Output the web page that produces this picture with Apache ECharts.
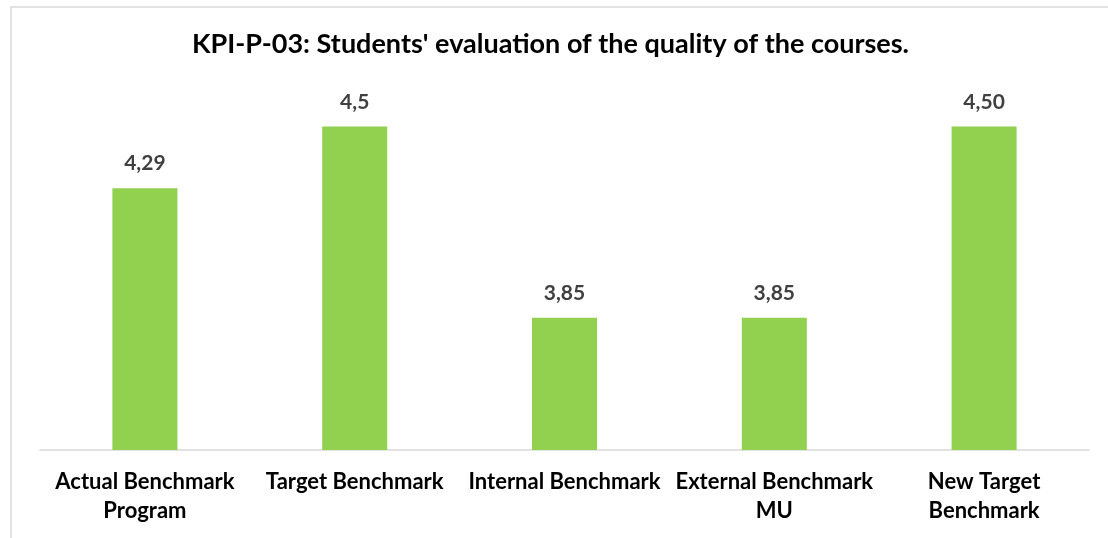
<!DOCTYPE html>
<html>
<head>
<meta charset="utf-8">
<script src="https://cdn.jsdelivr.net/npm/echarts@6/dist/echarts.min.js"></script>
<style>
  html, body { margin: 0; padding: 0; background: #fff; }
  #chart { width: 1108px; height: 538px; }
</style>
</head>
<body>
<div id="chart"></div>
<script>
// chart data
const categories = [
  'Actual Benchmark\nProgram',
  'Target Benchmark',
  'Internal Benchmark',
  'External Benchmark\nMU',
  'New Target\nBenchmark'
]
const values = [4.29, 4.5, 3.85, 3.85, 4.5]
const valueLabels = ['4,29', '4,5', '3,85', '3,85', '4,50']
const titleText = "KPI-P-03: Students' evaluation of the quality of the courses."

const FONT = 'Lato'

const myChart = echarts.init(document.getElementById('chart'))
const option = {
  backgroundColor: '#ffffff',
  animation: false,
  graphic: [
    {
      type: 'rect',
      shape: { x: 11, y: 7, width: 1200, height: 600 },
      style: { fill: 'none', stroke: '#d9d9d9', lineWidth: 1.5 },
      silent: true
    }
  ],
  title: {
    text: titleText,
    left: 187,
    top: 26,
    textStyle: {
      fontFamily: FONT,
      fontWeight: 'bold',
      fontSize: 27,
      color: '#000000'
    }
  },
  grid: {
    left: 40,
    right: 19,
    top: 97,
    bottom: 88
  },
  xAxis: {
    type: 'category',
    data: categories,
    axisLine: { lineStyle: { color: '#d9d9d9', width: 1.5 } },
    axisTick: { show: false },
    axisLabel: {
      interval: 0,
      margin: 17,
      fontFamily: FONT,
      fontWeight: 'bold',
      fontSize: 22,
      lineHeight: 29,
      color: '#000000'
    }
  },
  yAxis: {
    type: 'value',
    min: 3.4,
    max: 4.6,
    show: false,
    splitLine: { show: false }
  },
  series: [
    {
      type: 'bar',
      data: values,
      barWidth: '31%',
      itemStyle: { color: '#92d050' },
      label: {
        show: true,
        position: 'top',
        distance: 14,
        fontFamily: FONT,
        fontWeight: 'bold',
        fontSize: 21,
        color: '#404040',
        formatter: function(p) {
          return valueLabels[p.dataIndex]
        }
      }
    }
  ]
}
option && myChart.setOption(option)
</script>
</body>
</html>
